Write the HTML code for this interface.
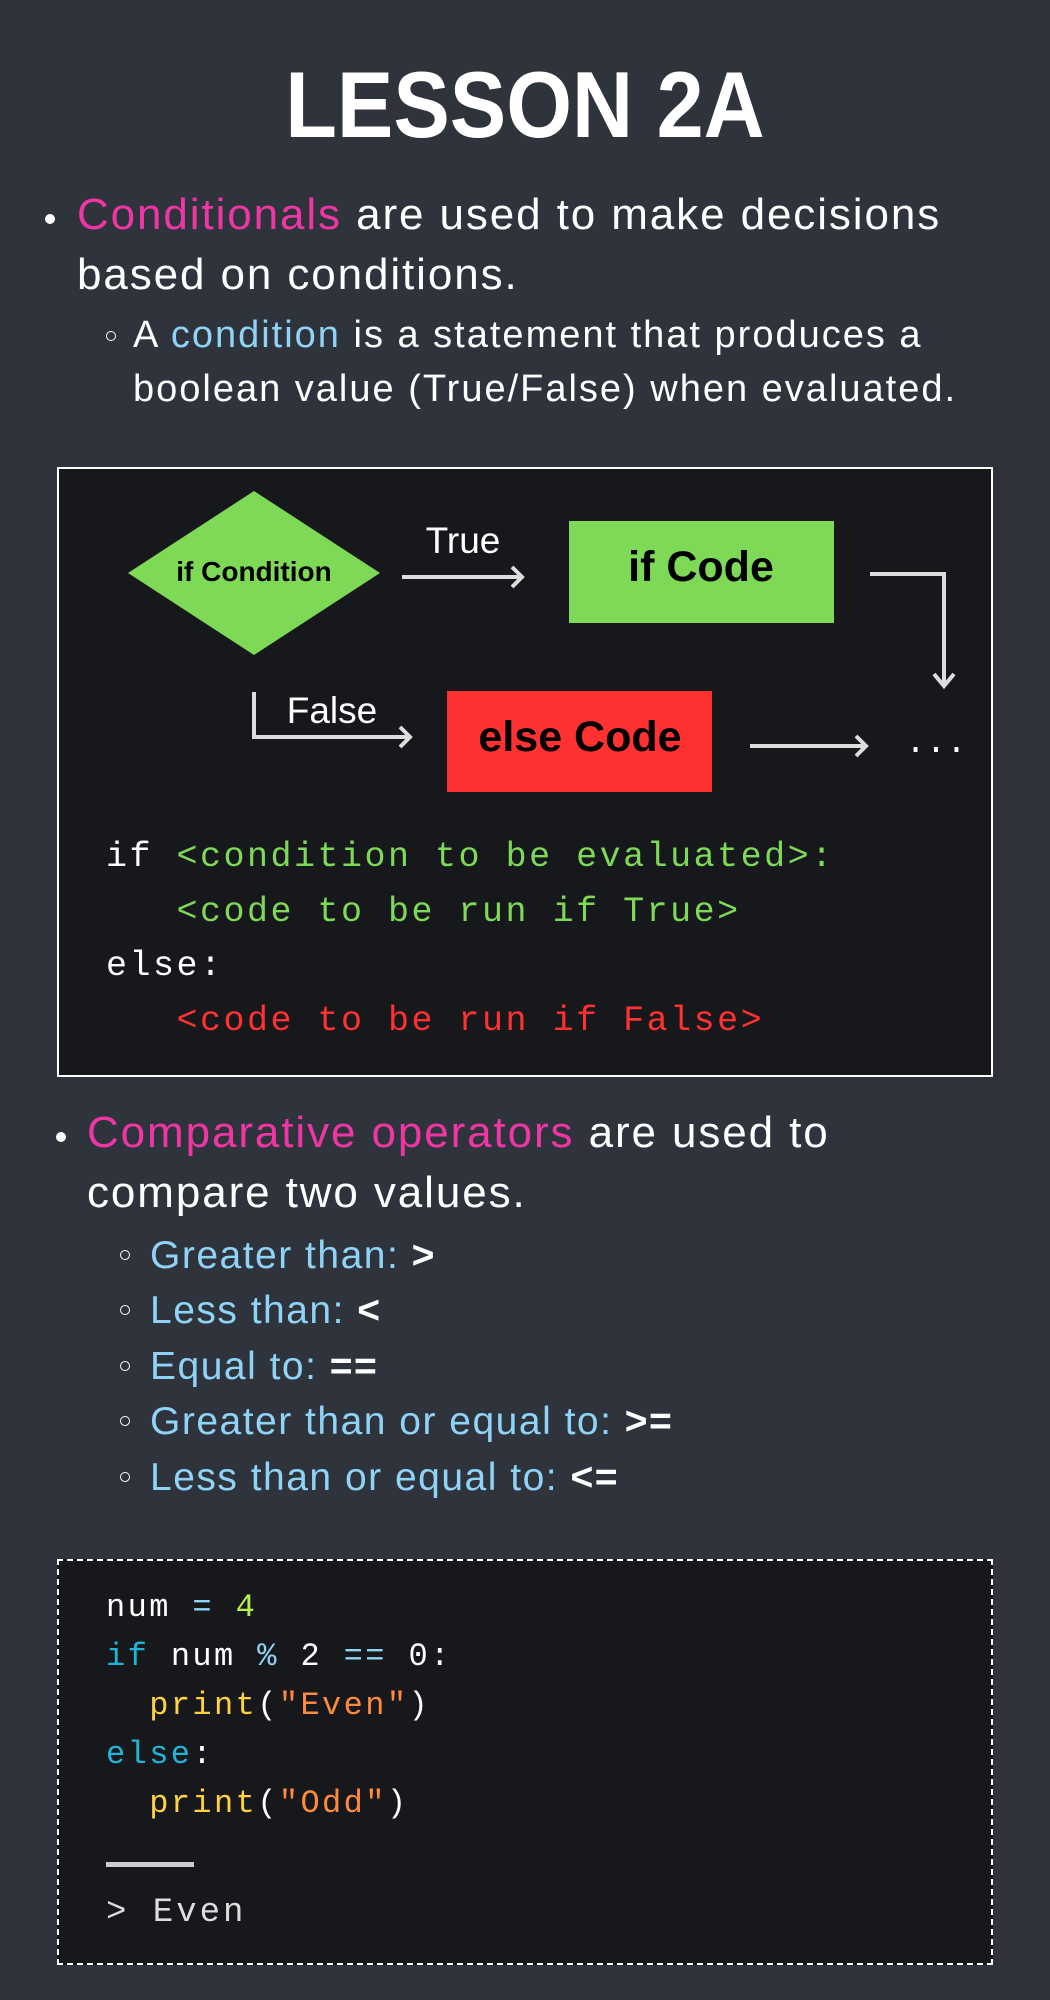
<!DOCTYPE html>
<html><head><meta charset="utf-8"><style>
*{margin:0;padding:0;box-sizing:border-box}
body{width:1050px;height:2000px;background:#2f333b;position:relative;overflow:hidden;font-family:"Liberation Sans",sans-serif;color:#fff}
.t{position:absolute;white-space:pre;line-height:1}
.code{position:absolute;white-space:normal}
.code div{white-space:pre}
.pk{color:#f035a5}.lb{color:#8fd3f7}
.mono{font-family:"Liberation Mono",monospace}
.dot{position:absolute;width:10px;height:10px;border-radius:50%;background:#fff}
.circ{position:absolute;width:10px;height:10px;border-radius:50%;border:1.5px solid #fff}
.b1{font-size:44px;letter-spacing:1.9px}
.b2{font-size:38px;letter-spacing:2px}
.b3{font-size:39px;letter-spacing:1.5px}
</style></head><body>
<div class="t" style="left:0;width:1050px;text-align:center;top:58px;font-size:94px;font-weight:bold;transform:scaleX(0.9)">LESSON 2A</div>

<div class="dot" style="left:45px;top:214px"></div>
<div class="t b1" style="left:77px;top:193px"><span class="pk">Conditionals</span> are used to make decisions</div>
<div class="t b1" style="left:77px;top:253px">based on conditions.</div>
<div class="circ" style="left:106px;top:331px"></div>
<div class="t b2" style="left:133px;top:316px">A <span class="lb">condition</span> is a statement that produces a</div>
<div class="t b2" style="left:133px;top:370px">boolean value (True/False) when evaluated.</div>

<div style="position:absolute;left:57px;top:467px;width:936px;height:610px;background:#17181b;border:2px solid #fff"></div>
<svg style="position:absolute;left:0;top:0" width="1050" height="1100">
<polygon points="128,573 254,491 380,573 254,655" fill="#7ed957"/>
<rect x="569" y="521" width="265" height="102" fill="#7ed957"/>
<rect x="447" y="691" width="265" height="101" fill="#ff3131"/>
<g stroke="#ddd" stroke-width="4" fill="none">
<path d="M402 577 H522 M512 567 L522 577 L512 587"/>
<path d="M870 574 H944 V684 M934 674 L944 686 L954 674"/>
<path d="M254 692 V737 H410 M400 727 L410 737 L400 747"/>
<path d="M750 746 H866 M856 736 L866 746 L856 756"/>
</g>
<text x="254" y="581" text-anchor="middle" font-family="Liberation Sans" font-weight="bold" font-size="28" fill="#000">if Condition</text>
<text x="463" y="553" text-anchor="middle" font-family="Liberation Sans" font-size="37" fill="#fff">True</text>
<text x="701" y="581" text-anchor="middle" font-family="Liberation Sans" font-weight="bold" font-size="43" fill="#000">if Code</text>
<text x="332" y="723" text-anchor="middle" font-family="Liberation Sans" font-size="37" fill="#fff">False</text>
<text x="580" y="751" text-anchor="middle" font-family="Liberation Sans" font-weight="bold" font-size="43" fill="#000">else Code</text>
<text x="936" y="752" text-anchor="middle" font-family="Liberation Mono" font-size="34" fill="#fff">...</text>
</svg>
<div class="code mono" style="left:106px;top:830px;font-size:35px;letter-spacing:2.5px;line-height:54.5px"><div>if <span style="color:#7ed957">&lt;condition to be evaluated&gt;:</span></div><div style="color:#7ed957">   &lt;code to be run if True&gt;</div><div>else:</div><div style="color:#ff3131">   &lt;code to be run if False&gt;</div></div>

<div class="dot" style="left:56px;top:1132px"></div>
<div class="t b1" style="left:87px;top:1111px"><span class="pk">Comparative operators</span> are used to</div>
<div class="t b1" style="left:87px;top:1171px">compare two values.</div>
<div class="circ" style="left:120px;top:1250px"></div>
<div class="t lb b3" style="left:150px;top:1236px">Greater than: <b style="color:#fff">&gt;</b></div>
<div class="circ" style="left:120px;top:1305px"></div>
<div class="t lb b3" style="left:150px;top:1291px">Less than: <b style="color:#fff">&lt;</b></div>
<div class="circ" style="left:120px;top:1361px"></div>
<div class="t lb b3" style="left:150px;top:1347px">Equal to: <b style="color:#fff">==</b></div>
<div class="circ" style="left:120px;top:1416px"></div>
<div class="t lb b3" style="left:150px;top:1402px">Greater than or equal to: <b style="color:#fff">&gt;=</b></div>
<div class="circ" style="left:120px;top:1472px"></div>
<div class="t lb b3" style="left:150px;top:1458px">Less than or equal to: <b style="color:#fff">&lt;=</b></div>

<div style="position:absolute;left:57px;top:1559px;width:936px;height:406px;background:#17181b;border:2px dashed #fff"></div>
<div class="code mono" style="left:106px;top:1583px;font-size:32px;letter-spacing:2.4px;line-height:49px"><div>num <span style="color:#8fd3f7">=</span> <span style="color:#b8f04a">4</span></div><div><span style="color:#1fb4d8">if</span> num <span style="color:#8fd3f7">%</span> 2 <span style="color:#8fd3f7">==</span> 0:</div><div>  <span style="color:#ffd23f">print</span>(<span style="color:#ff8a3d">"Even"</span>)</div><div><span style="color:#1fb4d8">else</span>:</div><div>  <span style="color:#ffd23f">print</span>(<span style="color:#ff8a3d">"Odd"</span>)</div></div>
<div style="position:absolute;left:106px;top:1862px;width:88px;height:5px;background:#ccc"></div>
<div class="t mono" style="left:106px;top:1896px;font-size:34px;letter-spacing:3px;color:#ddd">&gt; Even</div>
</body></html>
